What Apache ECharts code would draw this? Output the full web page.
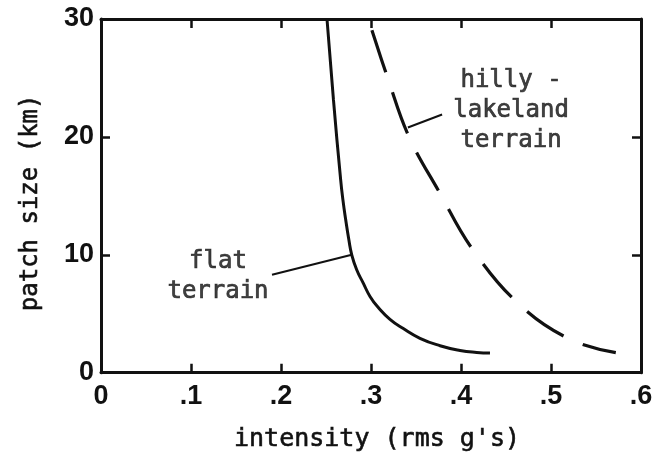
<!DOCTYPE html>
<html>
<head>
<meta charset="utf-8">
<title>Patch size vs intensity</title>
<script src="https://cdn.jsdelivr.net/npm/echarts@6/dist/echarts.min.js"></script>
<style>
  html, body { margin: 0; padding: 0; background: #fff; }
  #chart { width: 659px; height: 457px; }
</style>
</head>
<body>
<div id="chart"></div>
<script>
// Axis ranges and tick labels
const xTicks = [0, 0.1, 0.2, 0.3, 0.4, 0.5, 0.6];
const xTickLabels = ['0', '.1', '.2', '.3', '.4', '.5', '.6'];
const yTicks = [0, 10, 20, 30];

// Curves: [intensity (rms g's), patch size (km)]
const flatTerrain = [
  [0.2511, 30], [0.2583, 23.14], [0.2663, 16.36], [0.2688, 14.66], [0.2719, 12.97],
  [0.2754, 11.27], [0.2786, 10.0], [0.2841, 8.73], [0.2914, 7.60], [0.2989, 6.47],
  [0.3081, 5.53], [0.3211, 4.53], [0.3359, 3.74], [0.3544, 2.92], [0.3767, 2.29],
  [0.3989, 1.89], [0.4174, 1.72], [0.4322, 1.67]
];
const hillyLakeland = [
  [0.297, 30], [0.319, 24.9], [0.342, 20.05], [0.376, 15.3], [0.413, 10.45],
  [0.466, 5.7], [0.522, 2.8], [0.572, 1.7]
];

// Curve captions and their pointer lines
const flatCaption = { text: 'flat\nterrain', at: [0.13, 8.16] };
const hillyCaption = { text: 'hilly -\nlakeland\nterrain', at: [0.4556, 22.2] };
const flatPointer = [[0.190, 8.3], [0.2786, 10.0]];
const hillyPointer = [[0.341, 20.8], [0.379, 21.9]];

const ink = '#111';
const mono = '"DejaVu Sans Mono", "Liberation Mono", monospace';
const tickFont = { fontFamily: '"Liberation Sans", Arial, sans-serif', fontWeight: 'bold', fontSize: 27, color: ink };

const chart = echarts.init(document.getElementById('chart'), null, { renderer: 'canvas' });

const axisLine = { show: true, onZero: false, lineStyle: { color: ink, width: 3 } };
const axisTick = { show: true, inside: true, length: 9, lineStyle: { color: ink, width: 2.5 } };

function caption(c) {
  return {
    type: 'scatter',
    symbolSize: 0,
    silent: true,
    data: [c.at],
    label: {
      show: true,
      position: 'inside',
      formatter: c.text,
      fontFamily: mono,
      fontSize: 24,
      lineHeight: 30,
      color: ink,
      textBorderColor: ink,
      textBorderWidth: 0.7,
      align: 'center',
      verticalAlign: 'middle'
    }
  };
}

function pointer(pts) {
  return {
    type: 'line',
    data: pts,
    symbol: 'none',
    silent: true,
    lineStyle: { color: ink, width: 2 }
  };
}

chart.setOption({
  animation: false,
  backgroundColor: '#fff',
  grid: { left: 101, right: 18, top: 19, bottom: 84 },
  xAxis: [
    {
      type: 'value', position: 'bottom',
      min: xTicks[0], max: xTicks[xTicks.length - 1], interval: 0.1,
      axisLine, axisTick, splitLine: { show: false },
      axisLabel: {
        ...tickFont, margin: 10,
        formatter: v => xTickLabels[Math.round(v * 10)]
      },
      name: 'intensity (rms g\'s)',
      nameLocation: 'middle',
      nameGap: 54,
      nameTextStyle: {
        fontFamily: mono, fontSize: 25, color: ink,
        textBorderColor: ink, textBorderWidth: 0.6,
        padding: [0, 0, 0, 12]
      }
    },
    {
      type: 'value', position: 'top',
      min: xTicks[0], max: xTicks[xTicks.length - 1], interval: 0.1,
      axisLine, axisTick, splitLine: { show: false },
      axisLabel: { show: false }
    }
  ],
  yAxis: [
    {
      type: 'value', position: 'left',
      min: yTicks[0], max: yTicks[yTicks.length - 1], interval: 10,
      axisLine, axisTick, splitLine: { show: false },
      axisLabel: { ...tickFont, margin: 7 },
      name: 'patch size (km)',
      nameLocation: 'middle',
      nameGap: 58,
      nameTextStyle: {
        fontFamily: mono, fontSize: 24, color: ink,
        textBorderColor: ink, textBorderWidth: 0.6,
        padding: [0, 14, 0, 0]
      }
    },
    {
      type: 'value', position: 'right',
      min: yTicks[0], max: yTicks[yTicks.length - 1], interval: 10,
      axisLine, axisTick, splitLine: { show: false },
      axisLabel: { show: false }
    }
  ],
  series: [
    {
      name: 'flat terrain',
      type: 'line',
      data: flatTerrain,
      smooth: 0.5,
      symbol: 'none',
      lineStyle: { color: ink, width: 3 }
    },
    {
      name: 'hilly-lakeland terrain',
      type: 'line',
      data: hillyLakeland,
      smooth: 0.4,
      symbol: 'none',
      lineStyle: { color: ink, width: 3.2, type: [44, 21], dashOffset: 53 }
    },
    pointer(flatPointer),
    pointer(hillyPointer),
    caption(flatCaption),
    caption(hillyCaption)
  ]
});
</script>
</body>
</html>
